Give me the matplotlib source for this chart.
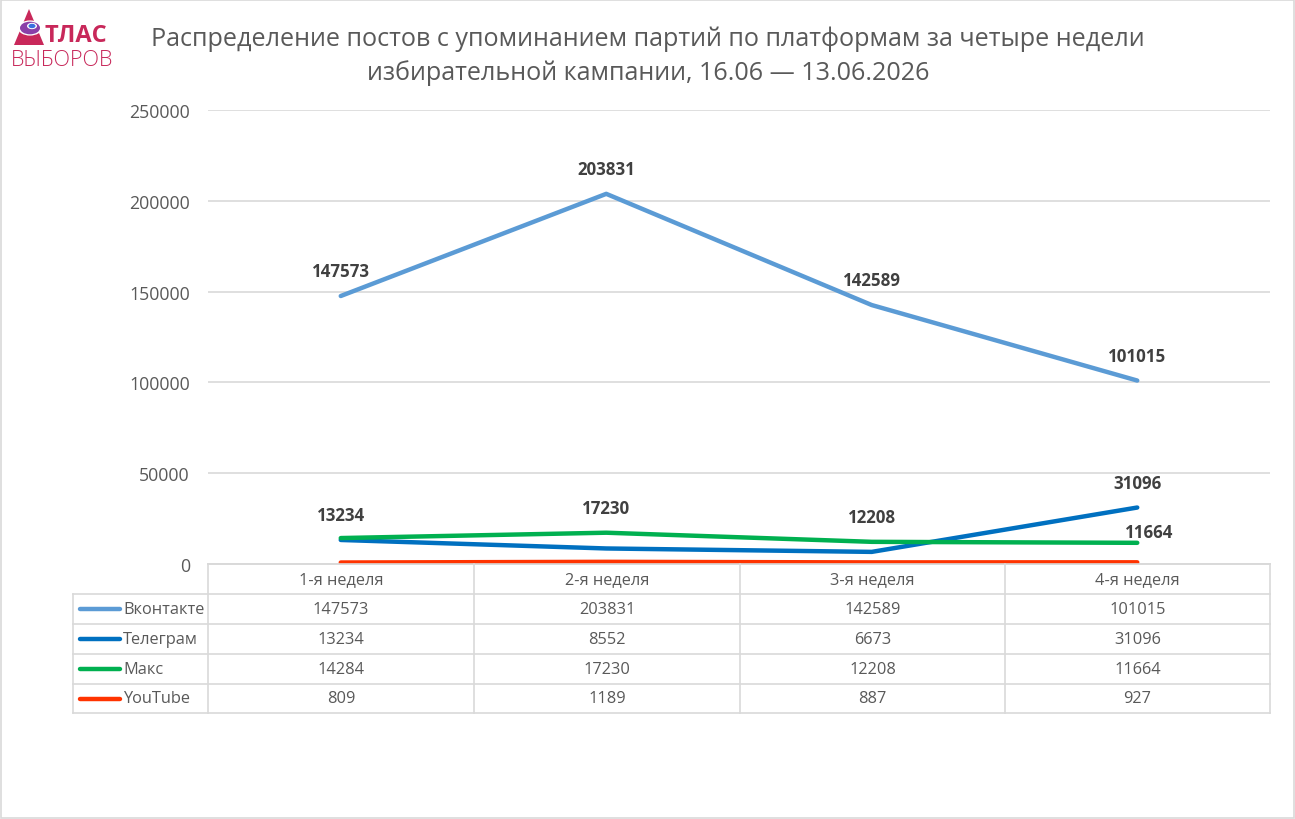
import matplotlib
matplotlib.use("Agg")
import matplotlib.pyplot as plt
from matplotlib.lines import Line2D
from matplotlib.patches import Rectangle, Circle, Polygon

plt.rcParams['font.family'] = ['Open Sans', 'DejaVu Sans']

title = "Распределение постов с упоминанием партий по платформам за четыре недели\nизбирательной кампании, 16.06 — 13.06.2026"
categories = ["1-я неделя", "2-я неделя", "3-я неделя", "4-я неделя"]
series_names = ["Вконтакте", "Телеграм", "Макс", "YouTube"]
vk = [147573, 203831, 142589, 101015]
tg = [13234, 8552, 6673, 31096]
mx = [14284, 17230, 12208, 11664]
yt = [809, 1189, 887, 927]
yticks = [0, 50000, 100000, 150000, 200000, 250000]
colors = ["#5B9BD5", "#0070C0", "#00B050", "#FF3300"]

W, H = 1295, 820
fig = plt.figure(figsize=(W / 100, H / 100), dpi=100)

def fx(px):
    return px / W

def fy(py):
    return 1 - py / H

L, R, T, B = 208, 1270, 111, 565
ax = fig.add_axes([fx(L), fy(B), fx(R) - fx(L), fy(T) - fy(B)])
ax.set_xlim(-0.5, 3.5)
ax.set_ylim(0, 250000)
ax.set_yticks(yticks)
ax.set_yticklabels([str(v) for v in yticks], color="#595959", fontsize=12.8)
ax.tick_params(axis="y", length=0, pad=13)
ax.set_xticks([])
ax.grid(axis="y", color="#D9D9D9", linewidth=1.2)
ax.set_axisbelow(True)
for s in ["left", "right", "top"]:
    ax.spines[s].set_visible(False)
ax.spines["bottom"].set_color("#D9D9D9")
ax.spines["bottom"].set_linewidth(1.2)

x = list(range(len(categories)))
all_series = [vk, tg, mx, yt]
for vals, c in zip(all_series, colors):
    ax.plot(x, vals, color=c, linewidth=3.2, solid_capstyle="round", zorder=3)

def lab(i, v, dx=0, dy=25):
    ax.annotate(str(v), (i, v), xytext=(dx, dy), textcoords="offset pixels",
                ha="center", va="center", fontsize=12.2, fontweight="bold",
                color="#404040", zorder=5)

for i, v in enumerate(vk):
    lab(i, v)
lab(0, tg[0])
lab(3, tg[3])
lab(1, mx[1])
lab(2, mx[2])
lab(3, mx[3], dx=12, dy=11)

# Title
fig.text(fx(648), fy(56), title, ha="center", va="center", fontsize=18.1,
         color="#595959", linespacing=1.42)

# Data table
gc = "#D9D9D9"
col_x = [73, 208, 474, 740, 1005, 1270]
row_y = [565, 595, 625, 655, 685, 714]

def hline(y, x0, x1):
    fig.add_artist(Line2D([fx(x0), fx(x1)], [fy(y), fy(y)], color=gc, linewidth=1.2))

def vline(xp, y0, y1):
    fig.add_artist(Line2D([fx(xp), fx(xp)], [fy(y0), fy(y1)], color=gc, linewidth=1.2))

hline(row_y[0], col_x[1], col_x[-1])
for y in row_y[1:]:
    hline(y, col_x[0], col_x[-1])
vline(col_x[0], row_y[1], row_y[-1])
for xp in col_x[1:]:
    vline(xp, row_y[0], row_y[-1])

for j, cat in enumerate(categories):
    cx = (col_x[j + 1] + col_x[j + 2]) / 2
    fig.text(fx(cx), fy((row_y[0] + row_y[1]) / 2), cat, ha="center", va="center",
             fontsize=11.8, color="#595959")

for r, (name, vals, c) in enumerate(zip(series_names, all_series, colors)):
    yc = (row_y[r + 1] + row_y[r + 2]) / 2
    fig.add_artist(Line2D([fx(80), fx(120)], [fy(yc), fy(yc)], color=c, linewidth=3.2,
                          solid_capstyle="round"))
    fig.text(fx(123), fy(yc), name, ha="left", va="center", fontsize=11.8, color="#595959")
    for j, v in enumerate(vals):
        cx = (col_x[j + 1] + col_x[j + 2]) / 2
        fig.text(fx(cx), fy(yc), str(v), ha="center", va="center", fontsize=11.8,
                 color="#595959")

# Logo
crimson = "#C8285A"
fig.add_artist(Polygon([[fx(14), fy(46)], [fx(29), fy(10)], [fx(44), fy(46)]],
                       closed=True, facecolor=crimson, edgecolor="none"))
fig.add_artist(Circle((fx(30), fy(29)), 12 / W, facecolor="white", edgecolor="none",
                      transform=fig.transFigure))
fig.add_artist(Circle((fx(30), fy(29)), 10 / W, facecolor="#8A3FA8", edgecolor="none",
                      transform=fig.transFigure))
fig.add_artist(Circle((fx(32), fy(27)), 5 / W, facecolor="white", edgecolor="none",
                      transform=fig.transFigure))
fig.add_artist(Circle((fx(32), fy(27)), 3.5 / W, facecolor="#3A6FE0", edgecolor="none",
                      transform=fig.transFigure))
fig.text(fx(44), fy(36), "ТЛАС", ha="left", va="center", fontsize=17, fontweight="bold",
         color=crimson)
fig.text(fx(11), fy(60), "ВЫБОРОВ", ha="left", va="center", fontsize=15.5, color=crimson,
         fontweight="light")

# Outer border
fig.add_artist(Rectangle((0.0005, 0.0008), 0.999, 0.998, transform=fig.transFigure,
                         fill=False, edgecolor="#D9D9D9", linewidth=1.2))

fig.savefig("out.png", dpi=100, facecolor="white")
